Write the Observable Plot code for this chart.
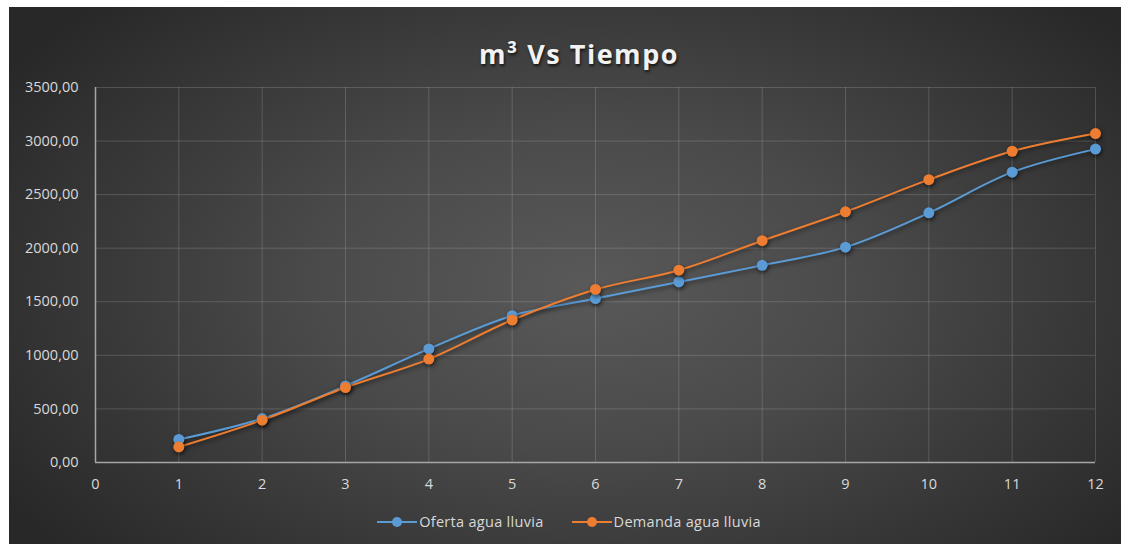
<!DOCTYPE html>
<html>
<head>
<meta charset="utf-8">
<script src="https://cdn.jsdelivr.net/npm/d3@7"></script>
<script src="https://cdn.jsdelivr.net/npm/@observablehq/plot@0.6"></script>
<style>
  html, body { margin: 0; padding: 0; background: #ffffff; }
  #frame {
    position: absolute; left: 9px; top: 7px; width: 1112px; height: 537px; overflow: hidden;
    background: radial-gradient(ellipse 62% 75% at 52% 52%, #595959 0%, #4a4a4a 40%, #363636 75%, #282828 100%);
    font-family: "Open Sans", "DejaVu Sans", sans-serif;
  }
  #title {
    position: absolute; left: 0; width: 1140px; top: 28px; text-align: center;
    font-size: 27px; font-weight: 700; letter-spacing: 1.5px; color: #f2f2f2;
    text-shadow: 1px 2px 3px rgba(0,0,0,0.7);
  }
  #chart { position: absolute; left: 0; top: 53px; }
  #legend {
    position: absolute; left: 0; width: 1112px; top: 505px; display: flex; justify-content: center; gap: 28px;
    font-size: 14.5px; letter-spacing: 0.3px; color: #d9d9d9; padding-left: 8px; box-sizing: border-box;
  }
  .item { display: flex; align-items: center; }
  .item svg { margin-right: 2px; }
  #chart svg g[aria-label="dot"] circle { filter: drop-shadow(1px 2px 2px rgba(0,0,0,0.6)); }
  #chart svg g[aria-label="line"] path { filter: drop-shadow(1px 2px 2px rgba(0,0,0,0.5)); }
</style>
</head>
<body>
<div id="frame">
  <div id="title">m³ Vs Tiempo</div>
  <div id="chart"></div>
  <div id="legend"></div>
</div>
<script>
const months = [1, 2, 3, 4, 5, 6, 7, 8, 9, 10, 11, 12];
const oferta = [215, 410, 715, 1060, 1370, 1530, 1685, 1840, 2010, 2330, 2710, 2925];
const demanda = [145, 395, 700, 965, 1330, 1615, 1795, 2070, 2340, 2640, 2905, 3070];
const seriesNames = ["Oferta agua lluvia", "Demanda agua lluvia"];
const seriesColors = ["#5b9bd5", "#ed7d31"];
const xTicks = [0, 1, 2, 3, 4, 5, 6, 7, 8, 9, 10, 11, 12];
const yTicks = [0, 500, 1000, 1500, 2000, 2500, 3000, 3500];

const data = [];
months.forEach((m, i) => {
  data.push({x: m, y: oferta[i], s: seriesNames[0]});
  data.push({x: m, y: demanda[i], s: seriesNames[1]});
});
const fmt = d => d.toFixed(2).replace(".", ",");

const chart = Plot.plot({
  width: 1112,
  height: 437,
  marginLeft: 86,
  marginRight: 26,
  marginTop: 27,
  marginBottom: 35,
  style: { background: "transparent", color: "#d9d9d9", fontSize: "14.5px", fontFamily: "'Open Sans', sans-serif" },
  x: { domain: [0, 12], ticks: xTicks, label: null },
  y: { domain: [0, 3500], ticks: yTicks, label: null },
  color: { domain: seriesNames, range: seriesColors },
  marks: [
    Plot.gridX(xTicks.filter(d => d > 0), { stroke: "#ffffff", strokeOpacity: 0.16, strokeWidth: 1 }),
    Plot.gridY(yTicks.filter(d => d > 0), { stroke: "#ffffff", strokeOpacity: 0.16, strokeWidth: 1 }),
    Plot.ruleX([0], { stroke: "#a6a6a6", strokeWidth: 1.5 }),
    Plot.ruleY([0], { stroke: "#a6a6a6", strokeWidth: 1.5 }),
    Plot.axisX({ ticks: xTicks, tickSize: 0, tickPadding: 16, tickFormat: d => String(d), label: null }),
    Plot.axisY({ ticks: yTicks, tickSize: 0, tickPadding: 17, tickFormat: fmt, label: null }),
    Plot.line(data, { x: "x", y: "y", z: "s", stroke: "s", strokeWidth: 2, curve: "catmull-rom" }),
    Plot.dot(data, { x: "x", y: "y", fill: "s", r: 5.5, stroke: "none" })
  ]
});
document.getElementById("chart").appendChild(chart);

const legend = document.getElementById("legend");
seriesNames.forEach((name, i) => {
  const item = document.createElement("div");
  item.className = "item";
  item.innerHTML = `<svg width="40" height="14"><line x1="0" y1="7" x2="40" y2="7" stroke="${seriesColors[i]}" stroke-width="2"/><circle cx="20" cy="7" r="5" fill="${seriesColors[i]}"/></svg><span>${name}</span>`;
  legend.appendChild(item);
});
</script>
</body>
</html>
